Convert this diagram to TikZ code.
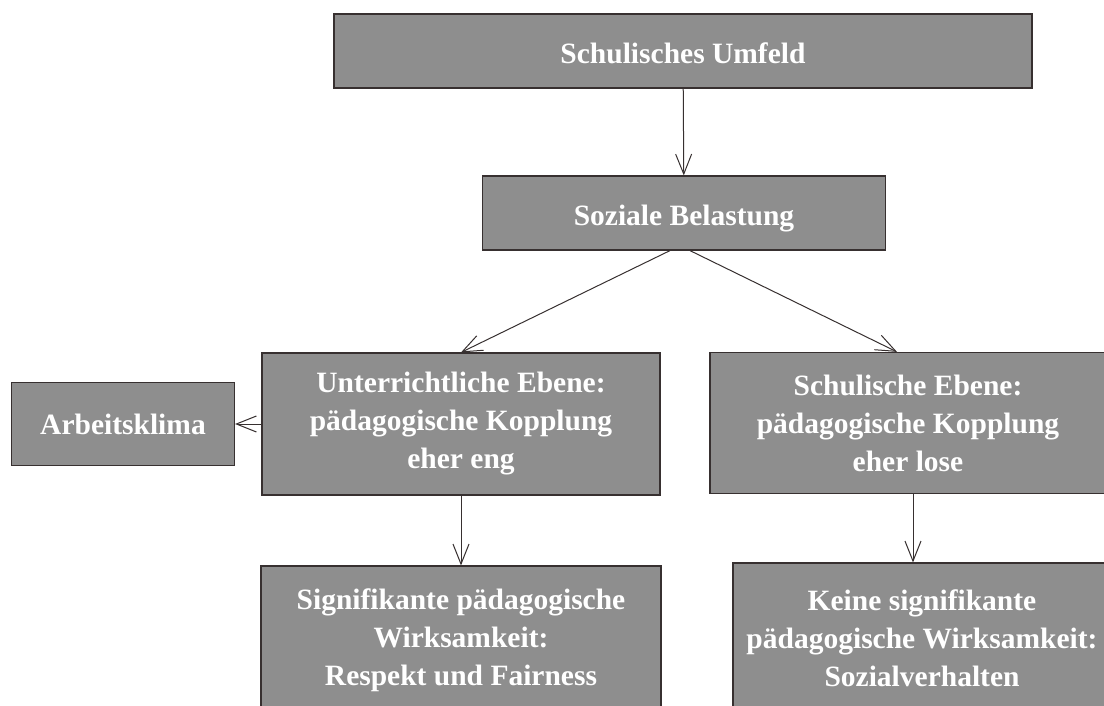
\documentclass[tikz,border=0pt]{standalone}
\usepackage{fontspec}
\setmainfont{Liberation Serif}
\usetikzlibrary{arrows.meta}

\definecolor{boxgray}{RGB}{142,142,142}
\definecolor{inkdark}{RGB}{55,48,48}

\begin{document}
\begin{tikzpicture}[x=1pt, y=-1pt, >={Straight Barb[length=20pt,width=16pt]}]
  \tikzstyle{box}=[draw=inkdark, line width=1.2pt, fill=boxgray, text=white,
    font=\fontsize{29.5}{38}\selectfont\bfseries, align=center, inner sep=0pt]
  \tikzstyle{oneline}=[text height=28pt, text depth=4pt]
  \tikzstyle{link}=[draw=inkdark, line width=1pt]

  \clip (0,0) rectangle (1104,705);

  \node[box, oneline, minimum width=698pt, minimum height=74pt] (umfeld) at (683, 51) {Schulisches Umfeld};

  \node[box, oneline, minimum width=403pt, minimum height=74pt] (belastung) at (684, 213) {Soziale Belastung};

  \node[box, minimum width=398pt, minimum height=142pt] (unterricht) at (461, 424) {Unterrichtliche Ebene:\\p\"adagogische Kopplung\\eher eng};

  \node[box, minimum width=223pt, minimum height=83pt] (klima) at (123, 424) {Arbeitsklima};

  \node[box, minimum width=396pt, minimum height=141pt] (schulisch) at (908, 423) {Schulische Ebene:\\p\"adagogische Kopplung\\eher lose};

  \node[box, minimum width=400pt, minimum height=148pt] (wirkja) at (461, 640) {Signifikante p\"adagogische\\Wirksamkeit:\\Respekt und Fairness};

  \node[box, minimum width=378pt, minimum height=150pt] (wirknein) at (922, 638) {Keine signifikante\\p\"adagogische Wirksamkeit:\\Sozialverhalten};

  \draw[link, ->] (umfeld) -- (belastung);

  \draw[link, ->] ([xshift=-14pt]belastung.south) -- (unterricht.north);
  \draw[link, ->] ([xshift=6pt]belastung.south) -- ([xshift=-11pt]schulisch.north);

  \draw[link, ->] (unterricht) -- (klima);

  \draw[link, ->] (unterricht) -- (wirkja);
  \draw[link, ->] ([xshift=5pt]schulisch.south) -- ([xshift=-9pt]wirknein.north);

\end{tikzpicture}
\end{document}
